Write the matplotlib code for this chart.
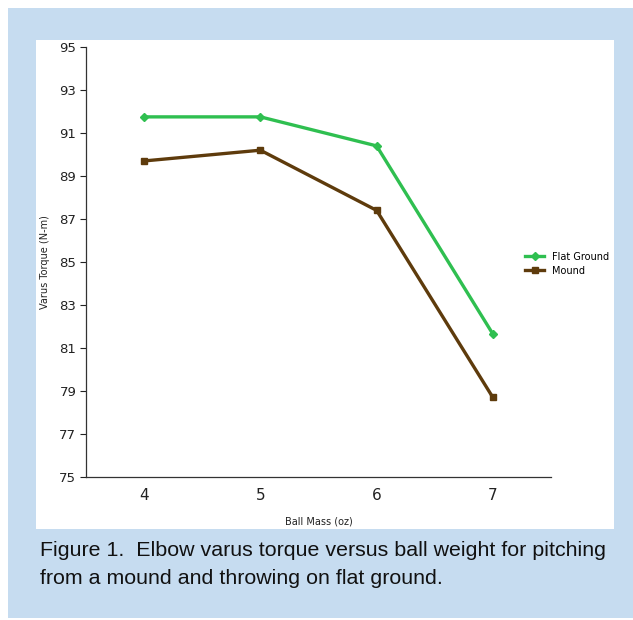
import matplotlib
matplotlib.use("Agg")
import matplotlib.pyplot as plt
from matplotlib.patches import Rectangle

ball_mass = [4, 5, 6, 7]
flat_ground = [91.75, 91.75, 90.4, 81.65]
mound = [89.7, 90.2, 87.4, 78.7]
y_ticks = [75, 77, 79, 81, 83, 85, 87, 89, 91, 93, 95]

W, H = 633, 620
fig = plt.figure(figsize=(W / 100, H / 100), dpi=100)
fig.patch.set_facecolor("white")

def px(x0, y0, x1, y1):
    return (x0 / W, 1 - y1 / H, (x1 - x0) / W, (y1 - y0) / H)

bx = px(8, 8, 633, 618)
fig.patches.append(Rectangle((bx[0], bx[1]), bx[2], bx[3], transform=fig.transFigure,
                             facecolor="#c6dcf0", edgecolor="none", zorder=-2))
wx = px(36, 40, 614, 529)
fig.patches.append(Rectangle((wx[0], wx[1]), wx[2], wx[3], transform=fig.transFigure,
                             facecolor="white", edgecolor="none", zorder=-1))

ax = fig.add_axes(px(86, 47, 551, 477))
ax.set_zorder(2)
ax.set_facecolor("none")
ax.plot(ball_mass, flat_ground, color="#2fbf50", lw=2.4, marker="D", ms=4,
        label="Flat Ground", zorder=3)
ax.plot(ball_mass, mound, color="#5e3b0c", lw=2.4, marker="s", ms=4.5,
        label="Mound", zorder=3)
ax.set_xlim(3.5, 7.5)
ax.set_ylim(75, 95)
ax.set_xticks(ball_mass)
ax.set_yticks(y_ticks)
ax.tick_params(axis="x", length=0, labelsize=11, pad=8, colors="#222222")
ax.tick_params(axis="y", length=4, width=0.8, labelsize=9.5, pad=3, colors="#222222")
for s in ["top", "right"]:
    ax.spines[s].set_visible(False)
for s in ["left", "bottom"]:
    ax.spines[s].set_color("#333333")
    ax.spines[s].set_linewidth(0.9)
ax.set_xlabel("Ball Mass (oz)", fontsize=7, labelpad=10, color="#222222")
ax.set_ylabel("Varus Torque (N-m)", fontsize=7, labelpad=7, color="#222222")

leg = fig.legend(loc="upper left", bbox_to_anchor=(521 / W, 1 - 248 / H),
                 frameon=False, fontsize=7, handlelength=2.0, handletextpad=0.8,
                 labelspacing=0.4, borderaxespad=0)

cap = "Figure 1.  Elbow varus torque versus ball weight for pitching\nfrom a mound and throwing on flat ground."
fig.text(40 / W, 1 - 541 / H, cap, ha="left", va="top", fontsize=15.4,
         family=["Liberation Sans"], color="#111111",
         linespacing=1.62)

fig.savefig("out.png", dpi=100)
